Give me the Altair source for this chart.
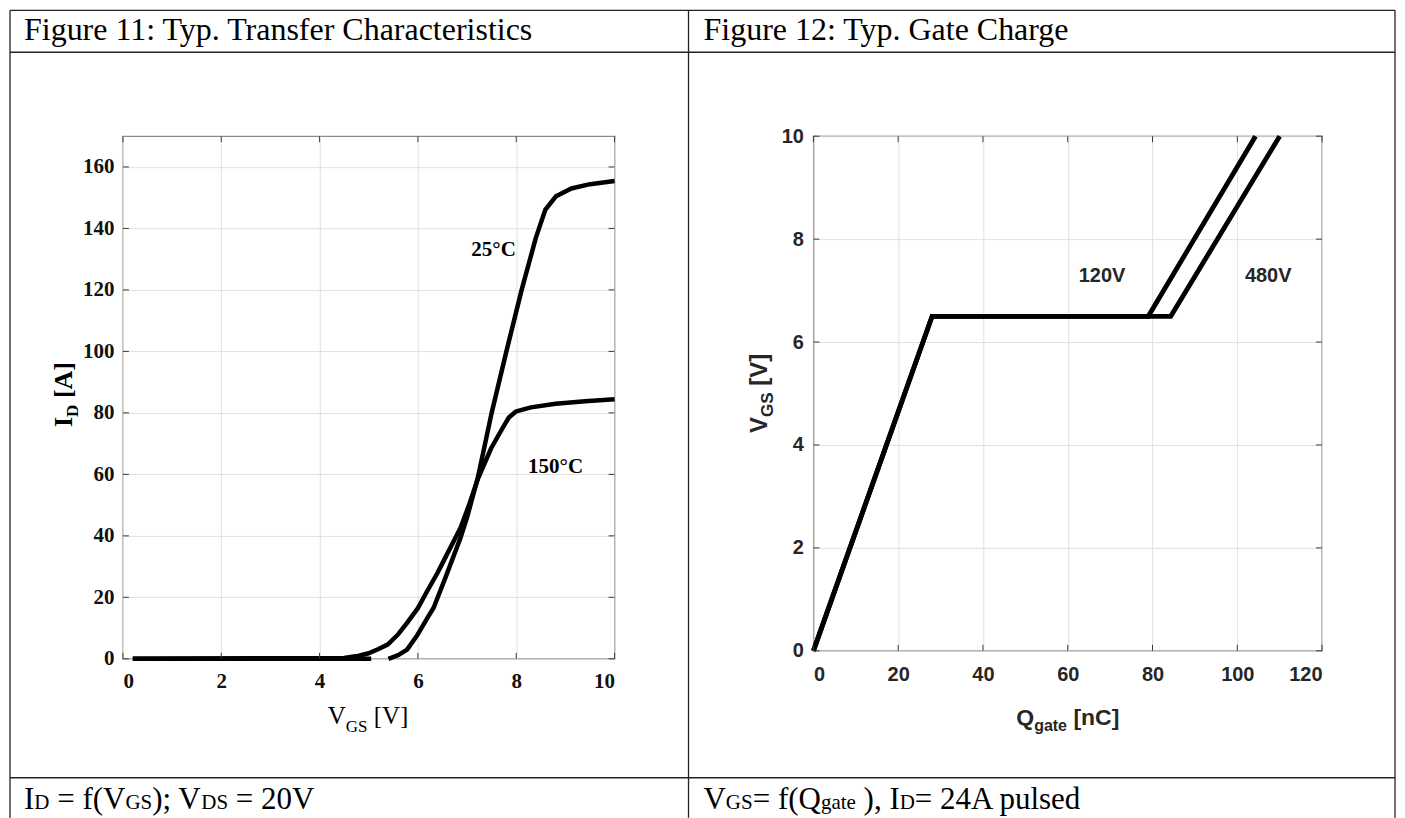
import altair as alt
import pandas as pd

SERIF = "Liberation Serif"
SANS = "Liberation Sans"

# ---------------- Figure 11 data: I_D = f(V_GS) ----------------
vgs_25_off = [0.2, 5.05]
id_25_off = [0.0, 0.0]
vgs_25 = [5.40, 5.60, 5.78, 6.00, 6.20, 6.32, 6.56, 6.87, 7.00, 7.22, 7.50,
          7.80, 8.11, 8.40, 8.59, 8.81, 9.12, 9.50, 10.0]
id_25 = [0.0, 1.2, 3.0, 8.0, 13.5, 16.6, 26.4, 39.5, 46.0, 59.0, 80.0,
         100.0, 120.0, 137.0, 146.0, 150.5, 153.0, 154.4, 155.4]
vgs_150 = [0.2, 4.5, 4.8, 5.0, 5.2, 5.39, 5.6, 5.78, 6.0, 6.17, 6.4, 6.56,
           6.87, 7.05, 7.22, 7.49, 7.72, 7.85, 8.0, 8.3, 8.8, 9.4, 10.0]
id_150 = [0.0, 0.3, 1.0, 1.8, 3.2, 4.7, 8.0, 11.7, 16.5, 21.5, 28.0, 33.0,
          42.7, 50.5, 58.5, 68.5, 75.0, 78.5, 80.5, 81.8, 83.0, 83.8, 84.4]
fig11_ticks_x = [0, 2, 4, 6, 8, 10]
fig11_ticks_y = [0, 20, 40, 60, 80, 100, 120, 140, 160]
fig11_labels = ["25°C", "150°C"]
fig11_label_v = [7.54, 8.80]
fig11_label_i = [131.0, 60.5]

# ---------------- Figure 12 data: V_GS = f(Q_gate) ----------------
q_120 = [0.0, 28.0, 79.0, 104.3]
v_120 = [0.0, 6.5, 6.5, 10.0]
q_480 = [0.0, 28.0, 84.3, 110.0]
v_480 = [0.0, 6.5, 6.5, 10.0]
fig12_ticks_x = [0, 20, 40, 60, 80, 100, 120]
fig12_ticks_y = [0, 2, 4, 6, 8, 10]
fig12_labels = ["120V", "480V"]
fig12_label_q = [68.1, 107.3]
fig12_label_v = [7.17, 7.17]

# ---------------- table texts ----------------
header_left = "Figure 11: Typ. Transfer Characteristics"
header_right = "Figure 12: Typ. Gate Charge"
footer_left = [("I", "m"), ("D", "s"), (" = f(V", "m"), ("GS", "s"),
               ("); V", "m"), ("DS", "s"), (" = 20V", "m")]
footer_right = [("V", "m"), ("GS", "s"), ("= f(Q", "m"), ("gate", "s"),
                (" ), I", "m"), ("D", "s"), ("= 24A pulsed", "m")]
xtitle_left = [("V", "m"), ("GS", "s"), (" [V]", "m")]
ytitle_left = [("I", "m"), ("D", "s"), (" [A]", "m")]
xtitle_right = [("Q", "m"), ("gate", "s"), (" [nC]", "m")]
ytitle_right = [("V", "m"), ("GS", "s"), (" [V]", "m")]

# ---------------- approximate font metrics (em) ----------------
TIMES = {'I': .333, 'D': .722, ' ': .25, '=': .564, 'f': .333, '(': .333, ')': .333,
         'V': .722, 'G': .722, 'S': .556, ';': .278, '2': .5, '0': .5, '4': .5,
         'Q': .722, 'g': .5, 'a': .444, 't': .278, 'e': .444, ',': .25, 'A': .722,
         'p': .5, 'u': .5, 'l': .278, 's': .389, 'd': .5, '[': .333, ']': .333}
TIMES_B = {'I': .389, 'D': .722, ' ': .25, '[': .333, ']': .333, 'A': .722}
HELV_B = {'V': .667, 'G': .778, 'S': .667, ' ': .278, '[': .333, ']': .333,
          'Q': .778, 'g': .611, 'a': .556, 't': .333, 'e': .556, 'n': .611, 'C': .722}


def tw(s, size, table):
    return sum(table.get(c, 0.5) for c in s) * size


ONE = pd.DataFrame({"k": [0]})


def txt(s, x, y, size, font, weight="normal", angle=0, color="black"):
    kw = dict(text=s, font=font, fontSize=size, fontWeight=weight,
              align="left", baseline="alphabetic", color=color)
    if angle:
        kw["angle"] = angle
    return alt.Chart(ONE).mark_text(**kw).encode(x=alt.value(x), y=alt.value(y))


def run(pieces, x0, y0, main, sub, font, table, weight="normal", drop=0,
        vertical=False, color="black"):
    out = []
    pos = y0 if vertical else x0
    for s, kind in pieces:
        size = main if kind == "m" else sub
        lead = len(s) - len(s.lstrip(" "))
        pos = pos - tw(" " * lead, size, table) if vertical else pos + tw(" " * lead, size, table)
        core = s.strip(" ")
        d = drop if kind == "s" else 0
        if vertical:
            out.append(txt(core, x0 + d, pos, size, font, weight, angle=270, color=color))
            pos -= tw(s.lstrip(" "), size, table)
        else:
            out.append(txt(core, pos, y0 + d, size, font, weight, color=color))
            pos += tw(s.lstrip(" "), size, table)
    return out


def hline(y, x1, x2, color="#222", w=1.3):
    return alt.Chart(ONE).mark_rule(color=color, strokeWidth=w).encode(
        y=alt.value(y), x=alt.value(x1), x2=alt.value(x2))


def vline(x, y1, y2, color="#222", w=1.3):
    return alt.Chart(ONE).mark_rule(color=color, strokeWidth=w).encode(
        x=alt.value(x), y=alt.value(y1), y2=alt.value(y2))


# ---------------- geometry (page pixels) ----------------
OX1, OY1 = 121, 134
W1, H1 = 492, 523
OX2, OY2 = 812, 134
W2, H2 = 509, 515
TL = 6

def px(x):
    return x - OX1

def py(y):
    return y - OY1

# ---------------- Figure 11 ----------------
df11 = pd.DataFrame({
    "v": vgs_25_off + vgs_25 + vgs_150,
    "i": id_25_off + id_25 + id_150,
    "seg": ["25a"] * len(vgs_25_off) + ["25b"] * len(vgs_25) + ["150"] * len(vgs_150),
})
lab11 = pd.DataFrame({"v": fig11_label_v, "i": fig11_label_i, "label": fig11_labels})

xs1 = alt.Scale(domain=[0, 10], nice=False)
ys1 = alt.Scale(domain=[0, 170], nice=False)
ax11x = alt.Axis(values=fig11_ticks_x, title=None, grid=True, gridColor="#e0e0e0",
                 gridWidth=1, domain=False, ticks=False, tickSize=0,
                 labelFont=SERIF, labelFontWeight="bold", labelFontSize=21,
                 labelColor="#111", labelPadding=12)
ax11y = alt.Axis(values=fig11_ticks_y, title=None, grid=True, gridColor="#e0e0e0",
                 gridWidth=1, domain=False, ticks=False, tickSize=0,
                 labelFont=SERIF, labelFontWeight="bold", labelFontSize=21,
                 labelColor="#111", labelPadding=9)
X11 = alt.X("v:Q", scale=xs1, axis=ax11x)
Y11 = alt.Y("i:Q", scale=ys1, axis=ax11y)

lines11 = alt.Chart(df11).mark_line(color="black", strokeWidth=4.5, strokeJoin="round").encode(
    x=X11, y=Y11, detail="seg:N")
labels11 = alt.Chart(lab11).mark_text(font=SERIF, fontWeight="bold", fontSize=21,
                                      align="center", baseline="alphabetic", color="black").encode(
    x=X11, y=Y11, text="label:N")
t11x = pd.DataFrame({"v": fig11_ticks_x})
t11y = pd.DataFrame({"i": fig11_ticks_y})
TICKC = "#3a3a3a"
ticks11 = [
    alt.Chart(t11x).mark_rule(color=TICKC, strokeWidth=1).encode(x=X11, y=alt.value(H1 - TL), y2=alt.value(H1)),
    alt.Chart(t11x).mark_rule(color=TICKC, strokeWidth=1).encode(x=X11, y=alt.value(0), y2=alt.value(TL)),
    alt.Chart(t11y).mark_rule(color=TICKC, strokeWidth=1).encode(y=Y11, x=alt.value(0), x2=alt.value(TL)),
    alt.Chart(t11y).mark_rule(color=TICKC, strokeWidth=1).encode(y=Y11, x=alt.value(W1 - TL), x2=alt.value(W1)),
]

# table frame (drawn from the left panel, page coordinates converted)
LEFT_X, RIGHT_X, DIV_X = 8, 1394, 687
TOP_Y, HEAD_Y, FOOT_Y, BOT_Y = 8, 50, 776, 816
frame = [
    hline(py(TOP_Y), px(LEFT_X), px(RIGHT_X)),
    hline(py(HEAD_Y), px(LEFT_X), px(RIGHT_X)),
    hline(py(FOOT_Y), px(LEFT_X), px(RIGHT_X)),
    vline(px(LEFT_X), py(TOP_Y), py(BOT_Y)),
    vline(px(DIV_X), py(TOP_Y), py(BOT_Y)),
    vline(px(RIGHT_X), py(TOP_Y), py(BOT_Y)),
]
texts = [
    txt(header_left, px(22), py(38), 32, SERIF),
    txt(header_right, px(702), py(38), 32, SERIF),
]
texts += run(footer_left, px(22), py(807), 31, 21, SERIF, TIMES)
texts += run(footer_right, px(702), py(807), 31, 21, SERIF, TIMES)
# axis titles of figure 11
texts += run(xtitle_left, px(326), py(722), 25, 17, SERIF, TIMES, drop=8)
texts += run(ytitle_left, px(70), py(425), 26, 17, SERIF, TIMES_B, weight="bold",
             drop=6, vertical=True)

left = alt.layer(lines11, labels11, *ticks11, *frame, *texts).properties(
    width=W1, height=H1, view=alt.ViewBackground(stroke="#8a8a8a", strokeWidth=1.3))

# ---------------- Figure 12 ----------------
df12 = pd.DataFrame({
    "q": q_120 + q_480,
    "vg": v_120 + v_480,
    "ser": ["120V"] * len(q_120) + ["480V"] * len(q_480),
})
lab12 = pd.DataFrame({"q": fig12_label_q, "vg": fig12_label_v, "label": fig12_labels})
xs2 = alt.Scale(domain=[0, 120], nice=False)
ys2 = alt.Scale(domain=[0, 10], nice=False)
LC2 = "#262626"
ax12x = alt.Axis(values=fig12_ticks_x, title=None, grid=True, gridColor="#e0e0e0",
                 gridWidth=1, domain=False, ticks=False, tickSize=0,
                 labelFont=SANS, labelFontWeight="bold", labelFontSize=20,
                 labelColor=LC2, labelPadding=14)
ax12y = alt.Axis(values=fig12_ticks_y, title=None, grid=True, gridColor="#e0e0e0",
                 gridWidth=1, domain=False, ticks=False, tickSize=0,
                 labelFont=SANS, labelFontWeight="bold", labelFontSize=20,
                 labelColor=LC2, labelPadding=10)
X12 = alt.X("q:Q", scale=xs2, axis=ax12x)
Y12 = alt.Y("vg:Q", scale=ys2, axis=ax12y)
lines12 = alt.Chart(df12).mark_line(color="black", strokeWidth=4.8).encode(
    x=X12, y=Y12, detail="ser:N")
labels12 = alt.Chart(lab12).mark_text(font=SANS, fontWeight="bold", fontSize=20,
                                      align="center", baseline="alphabetic", color=LC2).encode(
    x=X12, y=Y12, text="label:N")
t12x = pd.DataFrame({"q": fig12_ticks_x})
t12y = pd.DataFrame({"vg": fig12_ticks_y})
ticks12 = [
    alt.Chart(t12x).mark_rule(color=TICKC, strokeWidth=1).encode(x=X12, y=alt.value(H2 - TL), y2=alt.value(H2)),
    alt.Chart(t12x).mark_rule(color=TICKC, strokeWidth=1).encode(x=X12, y=alt.value(0), y2=alt.value(TL)),
    alt.Chart(t12y).mark_rule(color=TICKC, strokeWidth=1).encode(y=Y12, x=alt.value(0), x2=alt.value(TL)),
    alt.Chart(t12y).mark_rule(color=TICKC, strokeWidth=1).encode(y=Y12, x=alt.value(W2 - TL), x2=alt.value(W2)),
]
texts2 = []
texts2 += run(xtitle_right, 1015 - OX2, 723 - OY2, 23, 16, SANS, HELV_B, weight="bold",
              drop=6, color=LC2)
texts2 += run(ytitle_right, 766 - OX2, 431 - OY2, 24, 17, SANS, HELV_B, weight="bold",
              drop=6, vertical=True, color=LC2)

right = alt.layer(lines12, labels12, *ticks12, *texts2).properties(
    width=W2, height=H2, view=alt.ViewBackground(stroke="#555555", strokeWidth=1.3))

chart = alt.hconcat(left, right, spacing=OX2 - OX1 - W1, bounds="flush", padding=0,
                    background="white")

chart.save("out.html", embed_options={"renderer": "svg", "actions": False})
